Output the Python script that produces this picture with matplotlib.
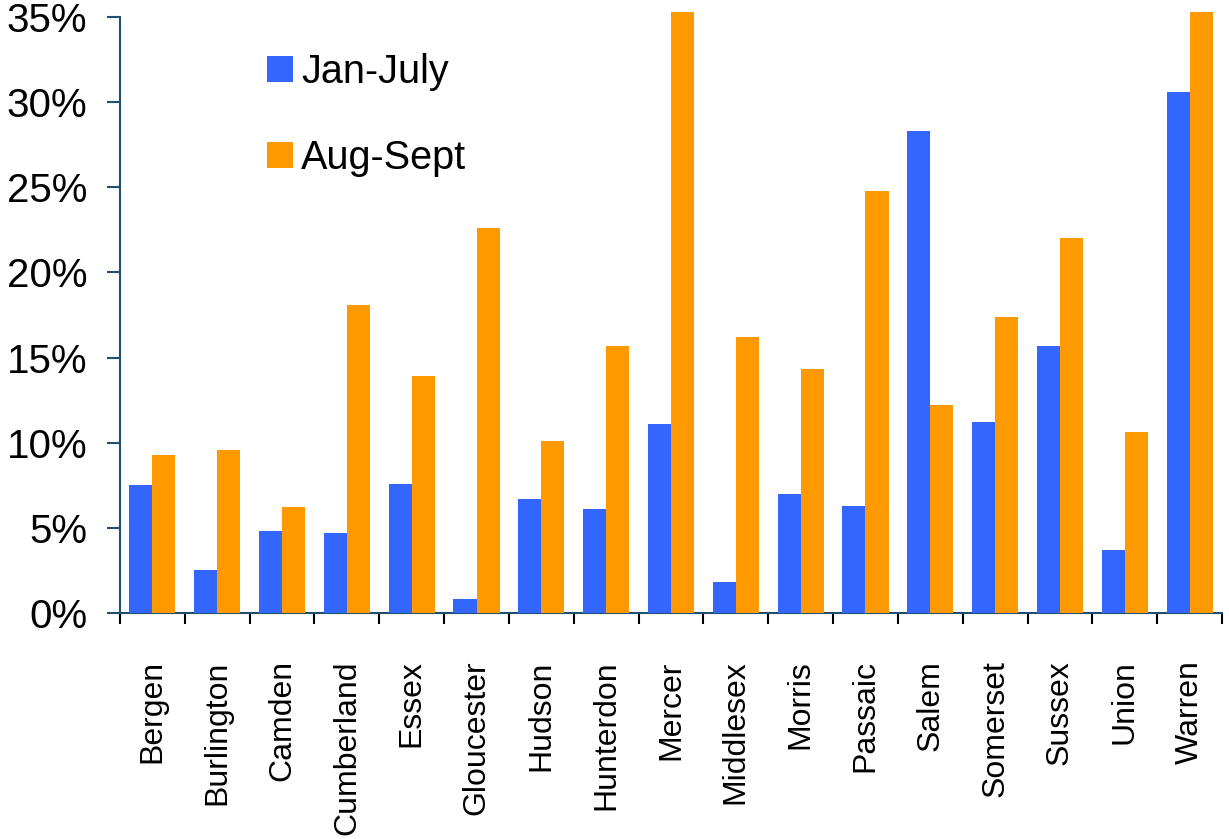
import numpy as np
import matplotlib
matplotlib.use('Agg')
import matplotlib.pyplot as plt
from matplotlib.ticker import FuncFormatter

plt.rcParams['font.family'] = ['Liberation Sans', 'DejaVu Sans']

counties = ['Bergen', 'Burlington', 'Camden', 'Cumberland', 'Essex', 'Gloucester',
            'Hudson', 'Hunterdon', 'Mercer', 'Middlesex', 'Morris', 'Passaic',
            'Salem', 'Somerset', 'Sussex', 'Union', 'Warren']
jan_july = [7.5, 2.5, 4.8, 4.7, 7.6, 0.8, 6.7, 6.1, 11.1, 1.8, 7.0, 6.3,
            28.3, 11.2, 15.7, 3.7, 30.6]
aug_sept = [9.3, 9.6, 6.2, 18.1, 13.9, 22.6, 10.1, 15.7, 35.3, 16.2, 14.3, 24.8,
            12.2, 17.4, 22.0, 10.6, 35.3]

blue = '#3366FF'
orange = '#FF9900'
spine_col = '#1f4f6f'

fig = plt.figure(figsize=(12.29, 8.39), dpi=100)
ax = fig.add_axes([120 / 1229, 226 / 839, 1102 / 1229, 596 / 839])

x = np.arange(len(counties))
w = 0.356
ax.bar(x - w / 2, jan_july, w, color=blue, label='Jan-July', clip_on=False, zorder=3)
ax.bar(x + w / 2, aug_sept, w, color=orange, label='Aug-Sept', clip_on=False, zorder=3)

ax.set_xlim(-0.5, len(counties) - 0.5)
ax.set_ylim(0, 35)
ax.set_yticks(np.arange(0, 36, 5))
ax.yaxis.set_major_formatter(FuncFormatter(lambda v, _: f'{v:.0f}%'))
ax.tick_params(axis='y', labelsize=29, length=9.5, width=1.5, color=spine_col, pad=14)

# group boundaries as ticks, names on the group centres
ax.set_xticks(np.arange(-0.5, len(counties), 1))
ax.set_xticklabels([])
ax.tick_params(axis='x', which='major', length=8, width=1.5, color='black')
ax.set_xticks(x, minor=True)
ax.set_xticklabels(counties, minor=True, rotation=90, fontsize=23, va='top', ha='center')
ax.tick_params(axis='x', which='minor', length=0, pad=34)

for side in ['top', 'right']:
    ax.spines[side].set_visible(False)
for side in ['left', 'bottom']:
    ax.spines[side].set_color(spine_col)
    ax.spines[side].set_linewidth(1.5)

ax.legend(loc='upper left', bbox_to_anchor=(0.133, 0.94), frameon=False, fontsize=28.5,
          handlelength=0.66, handleheight=0.66, handletextpad=0.22, labelspacing=1.22,
          borderpad=0, borderaxespad=0)

fig.savefig('out.png', dpi=100)
